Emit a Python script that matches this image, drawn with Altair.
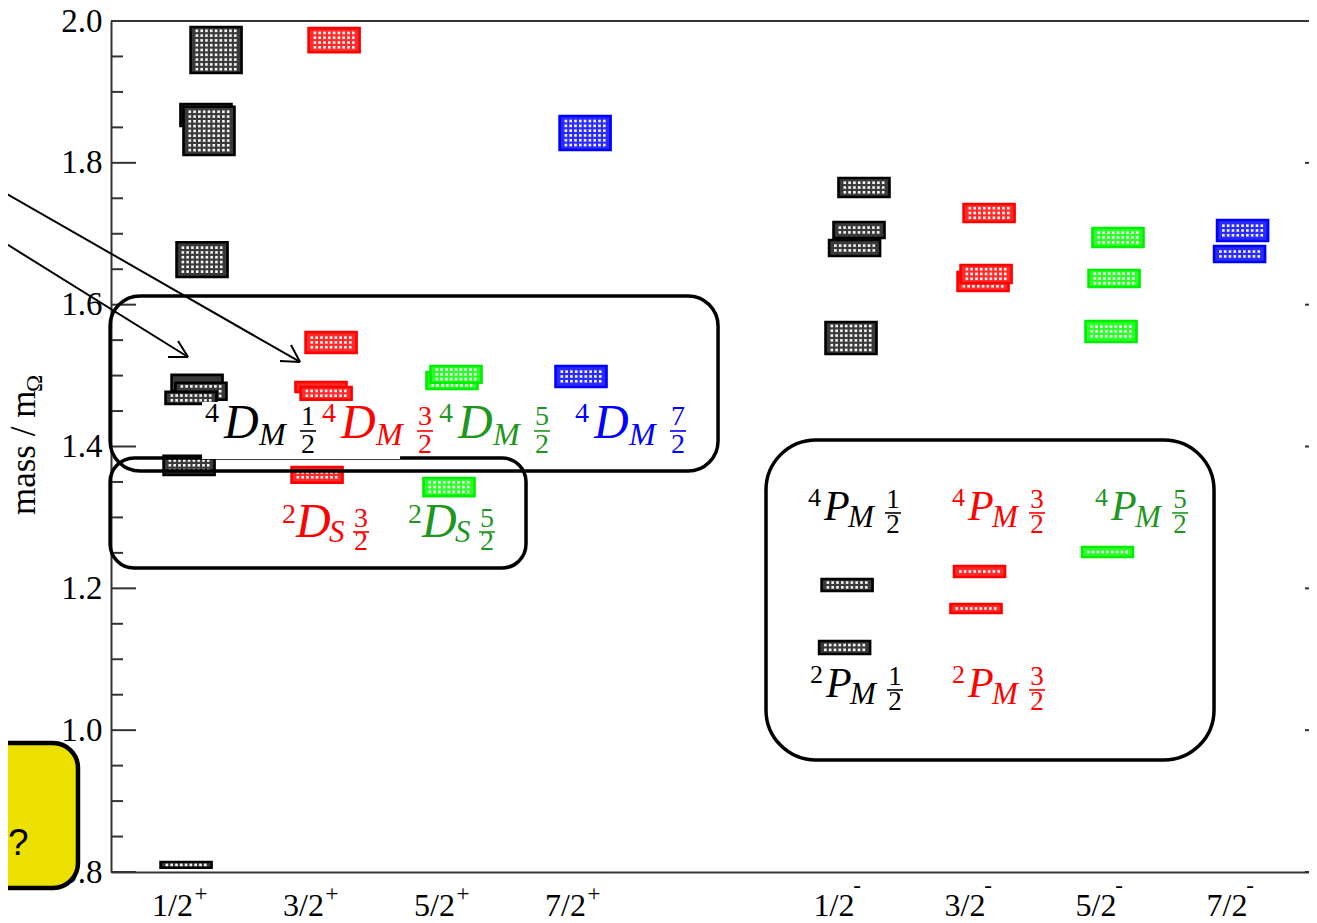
import altair as alt
import pandas as pd

# ---------------- data ----------------
categories = ["1/2", "3/2", "5/2", "7/2", "1/2", "3/2", "5/2", "7/2"]
parities = ["+", "+", "+", "+", "-", "-", "-", "-"]
category_slot = [1, 2, 3, 4, 6, 7, 8, 9]

# energy levels: centre position (slot units), lower / upper edge (mass / m_Omega), series colour key
level_x = [1.275, 1.198, 1.221, 1.168, 1.130, 1.160, 1.084, 1.069, 1.046,
           2.176, 2.153, 2.076, 2.115, 2.046,
           3.076, 3.107, 3.053,
           4.092, 4.061,
           6.221, 6.183, 6.149, 6.122, 6.092, 6.073,
           7.176, 7.130, 7.153, 7.103, 7.076,
           8.160, 8.130, 8.107, 8.080,
           9.111, 9.088]
level_lo = [1.9267, 1.852, 1.811, 1.639, 1.478, 1.466, 1.460, 1.360, 0.806,
            1.956, 1.532, 1.477, 1.466, 1.349,
            1.481, 1.490, 1.330,
            1.818, 1.484,
            1.7518, 1.694, 1.6686, 1.5305, 1.1963, 1.1075,
            1.7166, 1.6193, 1.6306, 1.216, 1.1653,
            1.6813, 1.6249, 1.5474, 1.2442,
            1.6898, 1.6602]
level_hi = [1.9915, 1.883, 1.879, 1.688, 1.501, 1.490, 1.477, 1.387, 0.814,
            1.990, 1.5615, 1.491, 1.484, 1.371,
            1.505, 1.5135, 1.3556,
            1.866, 1.5135,
            1.7786, 1.7166, 1.6912, 1.5756, 1.2132, 1.1258,
            1.742, 1.6461, 1.656, 1.2315, 1.178,
            1.7081, 1.6489, 1.577, 1.2583,
            1.7194, 1.6827]
level_series = ["k", "k", "k", "k", "k", "k", "k", "k", "k",
                "r", "r", "r", "r", "r",
                "g", "g", "g",
                "b", "b",
                "k", "k", "k", "k", "k", "k",
                "r", "r", "r", "r", "r",
                "g", "g", "g", "g",
                "b", "b"]

y_major = [0.8, 1.0, 1.2, 1.4, 1.6, 1.8, 2.0]
y_minor = [0.85, 0.9, 0.95, 1.05, 1.1, 1.15, 1.25, 1.3, 1.35,
           1.45, 1.5, 1.55, 1.65, 1.7, 1.75, 1.85, 1.9, 1.95]

# term-symbol labels: template, superscript, letter, subscript, numerator, denominator, colour, anchor
label_tpl = ["DM", "DM", "DM", "DM", "DS", "DS", "PM", "PM", "PM", "PM", "PM"]
label_sup = ["4", "4", "4", "4", "2", "2", "4", "4", "4", "2", "2"]
label_letter = ["D", "D", "D", "D", "D", "D", "P", "P", "P", "P", "P"]
label_sub = ["M", "M", "M", "M", "S", "S", "M", "M", "M", "M", "M"]
label_num = ["1", "3", "5", "7", "3", "5", "1", "3", "5", "1", "3"]
label_den = ["2", "2", "2", "2", "2", "2", "2", "2", "2", "2", "2"]
label_series = ["k", "r", "g", "b", "r", "g", "k", "r", "g", "k", "r"]
label_x = [1.191, 2.084, 2.977, 4.015, 1.779, 2.740, 5.794, 6.893, 7.985, 5.809, 6.893]
label_y = [1.412, 1.412, 1.412, 1.412, 1.2724, 1.2724, 1.2964, 1.2964, 1.2964, 1.0468, 1.0468]

# annotation frames (slot, mass units)
frame_x = [0.466, 0.466, 5.473]
frame_x2 = [5.107, 3.641, 8.893]
frame_y = [1.6122, 1.3838, 1.4092]
frame_y2 = [1.3655, 1.2287, 0.958]
frame_radius = [30, 24, 50]

# arrows (slot, mass units)
arrow_x = [-0.374, -0.374, 1.916, 1.916, 1.061, 1.061]
arrow_y = [1.7617, 1.6912, 1.5192, 1.5192, 1.5262, 1.5262]
arrow_x2 = [1.916, 1.061, 1.763, 1.847, 0.908, 0.985]
arrow_y2 = [1.5192, 1.5262, 1.5206, 1.5431, 1.5262, 1.5488]

# ---------------- layout / style ----------------
PX_PER_SLOT = 131.0
X_MIN = 0.473
W, H = 1198, 851
X_MAX = X_MIN + W / PX_PER_SLOT
Y_MIN, Y_MAX = 0.8, 2.0
PX_X = PX_PER_SLOT
PX_Y = H / (Y_MAX - Y_MIN)
SERIF = "Liberation Serif"
FILL = {"k": "#3a3a3a", "r": "#ff2a2a", "g": "#2aff2a", "b": "#2a2aff"}
EDGE = {"k": "#000000", "r": "#ff0000", "g": "#00ee00", "b": "#0000ff"}
TEXTC = {"k": "#000000", "r": "#ff0000", "g": "#1f961f", "b": "#0000ff"}
HALF_W = 25.5 / PX_X

xs = alt.Scale(domain=[X_MIN, X_MAX], nice=False, zero=False)
ys = alt.Scale(domain=[Y_MIN, Y_MAX], nice=False, zero=False)
x_axis = alt.Axis(labels=False, ticks=False, grid=False, title=None,
                  domainColor="#333333", domainWidth=2)
y_axis = alt.Axis(values=y_major, format=".1f", ticks=False, grid=False, title=None,
                  labelFont=SERIF, labelFontSize=33, labelColor="#000000",
                  labelPadding=9, domainColor="#333333", domainWidth=2)


def X(f="x"):
    return alt.X(f + ":Q", scale=xs, axis=x_axis)


def Y(f="y"):
    return alt.Y(f + ":Q", scale=ys, axis=y_axis)


def off(x, y, dx, dy):
    return x + dx / PX_X, y - dy / PX_Y


# ---- level boxes ----
lev = pd.DataFrame({
    "x": [c - HALF_W for c in level_x],
    "x2": [c + HALF_W for c in level_x],
    "y": level_lo,
    "y2": level_hi,
    "fill": [FILL[s] for s in level_series],
    "stroke": [EDGE[s] for s in level_series],
})
levels = alt.Chart(lev).mark_rect(strokeWidth=2.6).encode(
    x=X(), x2="x2:Q", y=Y(), y2="y2:Q",
    fill=alt.Fill("fill:N", scale=None), stroke=alt.Stroke("stroke:N", scale=None))

# dot texture inside each level box (derived from the box extents)
STEP = 4.8
dots = []
n = len(level_x)
for i in range(n):
    x0p = (level_x[i] - X_MIN) * PX_X - 25.5
    x1p = x0p + 51.0
    y0p = (Y_MAX - level_hi[i]) * PX_Y
    y1p = (Y_MAX - level_lo[i]) * PX_Y
    ncol = int((x1p - x0p - 8) // STEP) + 1
    nrow = max(1, int((y1p - y0p - 7) // STEP) + 1)
    gx = (x1p - x0p - (ncol - 1) * STEP) / 2
    gy = (y1p - y0p - (nrow - 1) * STEP) / 2
    for r in range(nrow):
        for c in range(ncol):
            px = x0p + gx + c * STEP
            py = y0p + gy + r * STEP
            hidden = False
            for j in range(i + 1, n):
                a0 = (level_x[j] - X_MIN) * PX_X - 28
                a1 = a0 + 56
                b0 = (Y_MAX - level_hi[j]) * PX_Y - 2.5
                b1 = (Y_MAX - level_lo[j]) * PX_Y + 2.5
                if a0 <= px <= a1 and b0 <= py <= b1:
                    hidden = True
                    break
            if not hidden:
                dots.append({"x": X_MIN + px / PX_X, "y": Y_MAX - py / PX_Y})
texture = alt.Chart(pd.DataFrame(dots)).mark_square(size=7, color="white", opacity=0.95).encode(
    x=X(), y=Y())

# ---- ticks (inward) ----
tick_rows = []
for v in y_major:
    tick_rows.append({"x": X_MIN, "x2": X_MIN + 25 / PX_X, "y": v})
    tick_rows.append({"x": X_MAX - 4 / PX_X, "x2": X_MAX, "y": v})
for v in y_minor:
    tick_rows.append({"x": X_MIN, "x2": X_MIN + 12 / PX_X, "y": v})
ticks = alt.Chart(pd.DataFrame(tick_rows)).mark_rule(color="#333333", strokeWidth=2).encode(
    x=X(), x2="x2:Q", y=Y())
top_line = alt.Chart(pd.DataFrame({"x": [X_MIN], "x2": [X_MAX], "y": [Y_MAX]})).mark_rule(
    color="#333333", strokeWidth=2).encode(x=X(), x2="x2:Q", y=Y())

# ---- frames ----
frames = []
for i in range(len(frame_x)):
    fd = pd.DataFrame({"x": [frame_x[i]], "x2": [frame_x2[i]], "y": [frame_y[i]], "y2": [frame_y2[i]]})
    frames.append(alt.Chart(fd).mark_rect(cornerRadius=frame_radius[i], fill="white", fillOpacity=0,
                                          stroke="black", strokeWidth=3.5).encode(
        x=X(), x2="x2:Q", y=Y(), y2="y2:Q"))

# white background behind the first label row (hides part of the lower frame)
bx0, by0 = off(label_x[0], label_y[0], -3, -36)
bx1, by1 = off(label_x[0], label_y[0], 195, 21)
label_bg = alt.Chart(pd.DataFrame({"x": [bx0], "x2": [bx1], "y": [by0], "y2": [by1]})).mark_rect(
    fill="white").encode(x=X(), x2="x2:Q", y=Y(), y2="y2:Q")

# ---- term-symbol labels ----
TPL = {
    # sup(dx,dy,size), main(dx,size), sub(dx,dy,size), frac(cx, num_dy, bar_dy, den_dy, size)
    "DM": dict(sup=(0, -16, 28), main=(19, 48), sub=(54, 7, 32), frac=(103, -13, -7, 15, 28)),
    "DS": dict(sup=(0, -14, 28), main=(14, 48), sub=(47, 5, 31), frac=(79, -10, -5, 13, 28)),
    "PM": dict(sup=(0, -14, 26), main=(16, 42), sub=(40, 7, 31), frac=(85, -12, -7, 13, 27)),
}
ital, upl, upc, bars = [], [], [], []
for i in range(len(label_tpl)):
    t = TPL[label_tpl[i]]
    x0, y0 = label_x[i], label_y[i]
    col = TEXTC[label_series[i]]
    sx, sy = off(x0, y0, t["sup"][0], t["sup"][1])
    upl.append({"x": sx, "y": sy, "t": label_sup[i], "s": t["sup"][2], "c": col})
    mx, my = off(x0, y0, t["main"][0], 0)
    ital.append({"x": mx, "y": my, "t": label_letter[i], "s": t["main"][1], "c": col})
    bx, by = off(x0, y0, t["sub"][0], t["sub"][1])
    ital.append({"x": bx, "y": by, "t": label_sub[i], "s": t["sub"][2], "c": col})
    cx, ndy, bdy, ddy, fs = t["frac"]
    nx, ny = off(x0, y0, cx, ndy)
    upc.append({"x": nx, "y": ny, "t": label_num[i], "s": fs, "c": col})
    dxx, dyy = off(x0, y0, cx, ddy)
    upc.append({"x": dxx, "y": dyy, "t": label_den[i], "s": fs, "c": col})
    l0x, l0y = off(x0, y0, cx - 8, bdy)
    l1x, _ = off(x0, y0, cx + 8, bdy)
    bars.append({"x": l0x, "x2": l1x, "y": l0y, "c": col})

# x category labels
for i in range(len(categories)):
    plus = parities[i] == "+"
    mx, my = off(category_slot[i], Y_MIN, -7.5 if plus else -1, 44)
    upc.append({"x": mx, "y": my, "t": categories[i], "s": 32, "c": "#000000"})
    px_, py_ = off(category_slot[i], Y_MIN, 21 if plus else 22, 29 if plus else 21)
    upc.append({"x": px_, "y": py_, "t": parities[i], "s": 23, "c": "#000000"})


def text_layer(rows, align, style):
    kw = dict(font=SERIF, align=align, baseline="alphabetic")
    if style:
        kw["fontStyle"] = style
    return alt.Chart(pd.DataFrame(rows)).mark_text(**kw).encode(
        x=X(), y=Y(), text="t:N",
        size=alt.Size("s:Q", scale=None), color=alt.Color("c:N", scale=None))


t_ital = text_layer(ital, "left", "italic")
t_upl = text_layer(upl, "left", None)
t_upc = text_layer(upc, "center", None)
frac_bars = alt.Chart(pd.DataFrame(bars)).mark_rule(strokeWidth=1.6).encode(
    x=X(), x2="x2:Q", y=Y(), color=alt.Color("c:N", scale=None))

# y title: mass / m_Omega (rotated)
tx, ty = -0.107, 1.3034
ox, oy = off(tx, ty, 7, -123)
ytitle = alt.Chart(pd.DataFrame({"x": [tx], "y": [ty], "t": ["mass / m"]})).mark_text(
    font=SERIF, fontSize=35, angle=270, align="left", baseline="alphabetic", color="black").encode(
    x=X(), y=Y(), text="t:N")
ytitle_sub = alt.Chart(pd.DataFrame({"x": [ox], "y": [oy], "t": ["Ω"]})).mark_text(
    font=SERIF, fontSize=23, angle=270, align="left", baseline="alphabetic", color="black").encode(
    x=X(), y=Y(), text="t:N")

# arrows
arrows = alt.Chart(pd.DataFrame({"x": arrow_x, "y": arrow_y, "x2": arrow_x2, "y2": arrow_y2})).mark_rule(
    color="black", strokeWidth=2).encode(x=X(), y=Y(), x2="x2:Q", y2="y2:Q")

# yellow call-out box at bottom left
yellow = alt.Chart(pd.DataFrame({"x": [-0.527], "x2": [0.221], "y": [0.9819], "y2": [0.7775]})).mark_rect(
    cornerRadius=25, fill="#ece000", stroke="black", strokeWidth=4.5).encode(
    x=X(), x2="x2:Q", y=Y(), y2="y2:Q")
qx, qy = off(X_MIN - 103 / PX_X, 0.824, 0, 0)
yellow_txt = alt.Chart(pd.DataFrame({"x": [qx], "y": [qy], "t": ["?"]})).mark_text(
    font="Liberation Sans", fontSize=37, align="left", baseline="alphabetic", color="black").encode(
    x=X(), y=Y(), text="t:N")

chart = alt.layer(
    levels, texture, ticks, top_line, *frames, label_bg, t_ital, t_upl, t_upc, frac_bars,
    ytitle, ytitle_sub, arrows, yellow, yellow_txt
).properties(
    width=W, height=H,
    autosize=alt.AutoSizeParams(type="none"),
    padding={"left": 103, "top": 13, "right": 0, "bottom": 60},
).configure_view(stroke="transparent").configure(background="white")

chart.save("out.html", embed_options={"renderer": "svg", "actions": False})
